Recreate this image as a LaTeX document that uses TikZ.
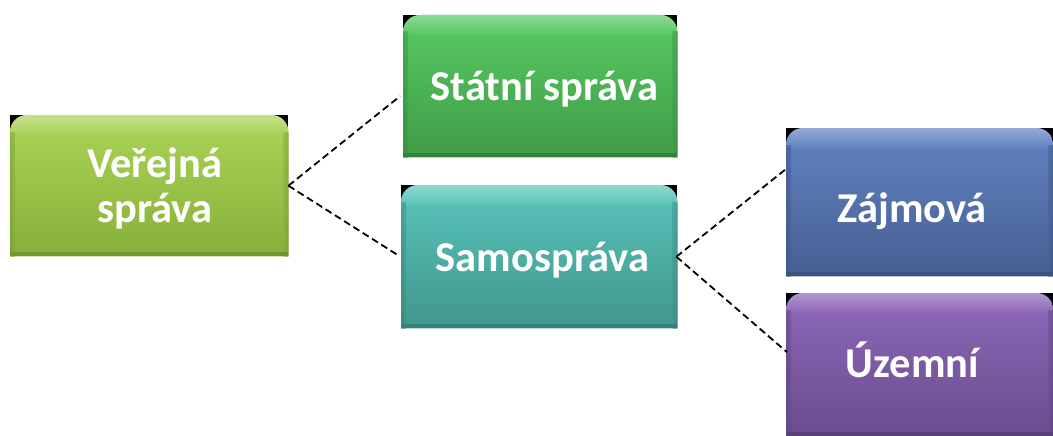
\documentclass[tikz,border=0pt]{standalone}
\usepackage{fontspec}
\setmainfont{Carlito}
\usetikzlibrary{calc}
\definecolor{vtop}{HTML}{AAD456}
\definecolor{vbot}{HTML}{88B03A}
\definecolor{stop}{HTML}{58CA63}
\definecolor{sbot}{HTML}{3F9C47}
\definecolor{mtop}{HTML}{5AC6BA}
\definecolor{mbot}{HTML}{40968C}
\definecolor{ztop}{HTML}{6283C2}
\definecolor{zbot}{HTML}{475F93}
\definecolor{utop}{HTML}{8D68B8}
\definecolor{ubot}{HTML}{6A4C8F}
\tikzset{
  boxnode/.style={inner sep=0pt, anchor=north west},
  lbl/.style={text=white, font=\fontsize{42.5}{45}\selectfont\bfseries, inner sep=0pt, anchor=base},
  conn/.style={draw=black, line width=1.8pt, dash pattern=on 7pt off 4pt},
}
\newcommand{\glossybox}[3]{%
  \fill[black] (#1.north west) rectangle ++(16,16);
  \fill[black] (#1.north east) rectangle ++(-16,16);
  \shade[top color=#2, bottom color=#3] (#1.south west) [rounded corners=17pt] -- (#1.north west) -- (#1.north east) [sharp corners] -- (#1.south east) -- cycle;
  \shade[top color=white!40!#2, bottom color=#2, opacity=0.8] ($(#1.north west)+(0,20)$) [rounded corners=17pt] -- (#1.north west) -- (#1.north east) [sharp corners] -- ($(#1.north east)+(0,20)$) -- cycle;
  \shade[left color=#3!85!black, right color=#3, opacity=0.5] (#1.south west) rectangle ($(#1.north west)+(5,17)$);
  \shade[right color=#3!85!black, left color=#3, opacity=0.5] (#1.south east) rectangle ($(#1.north east)+(-5,17)$);
  \fill[#3!85!black] ($(#1.south west)+(0,-4)$) rectangle (#1.south east);
}
\begin{document}
\begin{tikzpicture}[x=1pt,y=-1pt]
\useasboundingbox (0,0) rectangle (1053,436);
\node[boxnode, minimum width=278pt, minimum height=141pt] (v) at (10,115) {};
\node[boxnode, minimum width=274pt, minimum height=142pt] (s) at (403,15) {};
\node[boxnode, minimum width=276pt, minimum height=143pt] (m) at (401,185) {};
\node[boxnode, minimum width=267pt, minimum height=148pt] (z) at (786,128) {};
\node[boxnode, minimum width=267pt, minimum height=143pt] (u) at (786,293) {};
\glossybox{v}{vtop}{vbot}
\glossybox{s}{stop}{sbot}
\glossybox{m}{mtop}{mbot}
\glossybox{z}{ztop}{zbot}
\glossybox{u}{utop}{ubot}
\node[lbl] (v1) at (155,177) {Veřejná};
\node[lbl] (v2) at (155,222) {správa};
\node[lbl] (st) at (544.5,101) {Státní správa};
\node[lbl] (mt) at (542.5,271.5) {Samospráva};
\node[lbl] (zt) at (912,222) {Zájmová};
\node[lbl] (ut) at (912.5,377) {Územní};
\draw[conn] (v.east) -- ([xshift=-3pt,yshift=-10pt]s.west);
\draw[conn] (v.east) -- ([xshift=-3pt,yshift=1.5pt]m.west);
\draw[conn] ([xshift=-1pt]m.east) -- ([xshift=1pt,yshift=34pt]z.west);
\draw[conn] ([xshift=-1pt]m.east) -- ([xshift=1pt,yshift=12.5pt]u.west);
\end{tikzpicture}
\end{document}
